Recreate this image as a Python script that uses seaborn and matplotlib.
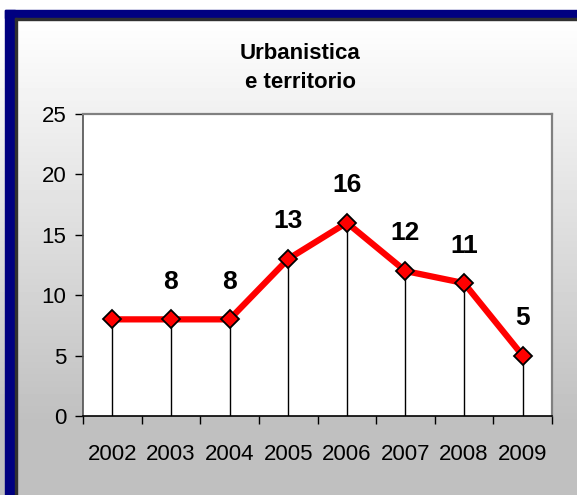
import numpy as np
import matplotlib
matplotlib.use("Agg")
import matplotlib.pyplot as plt
from matplotlib.patches import Rectangle
import seaborn as sns

years = ["2002", "2003", "2004", "2005", "2006", "2007", "2008", "2009"]
values = [8, 8, 8, 13, 16, 12, 11, 5]
show_label = [False, True, True, True, True, True, True, True]
title = "Urbanistica\ne territorio"

sns.set_style("white")
plt.rcParams["font.family"] = ["Liberation Sans", "DejaVu Sans"]
plt.rcParams["text.color"] = "black"
plt.rcParams["xtick.color"] = "black"
plt.rcParams["ytick.color"] = "black"

W, H = 577, 495
fig = plt.figure(figsize=(W / 100, H / 100), dpi=100)
fig.patch.set_facecolor("white")

# gradient background
bg = fig.add_axes([0, 0, 1, 1], zorder=-10)
rows = np.arange(H)
g = np.clip((rows - 18) / (420 - 18), 0, 1)
shade = 1 - g * (1 - 192 / 255)
img = np.repeat(shade[:, None], 2, axis=1)
bg.imshow(img, cmap="gray", vmin=0, vmax=1, aspect="auto", extent=[0, 1, 0, 1])
bg.set_axis_off()

# navy frame top and left
fig.add_artist(Rectangle((5 / W, 0), 10 / W, 1 - 10 / H, transform=fig.transFigure,
                         color="#000080", zorder=5))
fig.add_artist(Rectangle((5 / W, 1 - 18 / H), 1, 8 / H, transform=fig.transFigure,
                         color="#000080", zorder=5))
fig.add_artist(Rectangle((15 / W, 0), 1.5 / W, 1 - 18 / H, transform=fig.transFigure,
                         color="#303030", zorder=5))
fig.add_artist(Rectangle((15 / W, 1 - 20 / H), 1, 2 / H, transform=fig.transFigure,
                         color="#303030", zorder=5))

left, right, top, bottom = 83, 552, 114, 416
ax = fig.add_axes([left / W, 1 - bottom / H, (right - left) / W, (bottom - top) / H])
ax.set_facecolor("white")

x = np.arange(len(years))
ax.vlines(x, 0, values, color="black", lw=1, zorder=2)
sns.lineplot(x=x, y=values, ax=ax, color="#ff0000", lw=4.5, marker="D", markersize=9,
             markerfacecolor="#ff0000", markeredgecolor="black", markeredgewidth=1.3,
             zorder=3)

for xi, v, s in zip(x, values, show_label):
    if s:
        ax.annotate(str(v), (xi, v), xytext=(0, 22), textcoords="offset points",
                    ha="center", va="baseline", fontsize=19, fontweight="bold")

ax.set_xlim(-0.5, len(years) - 0.5)
ax.set_ylim(0, 25)
ax.set_yticks(range(0, 26, 5))
ax.set_xticks(x)
ax.set_xticklabels(years)
ax.set_xticks(np.arange(-0.5, len(years)), minor=True)
ax.tick_params(axis="x", which="major", length=0, pad=20, labelsize=16)
ax.tick_params(axis="x", which="minor", length=6, width=1, color="black", direction="out", bottom=True)
ax.tick_params(axis="y", length=6, width=1, color="black", direction="out", left=True,
               pad=6, labelsize=16)
ax.set_xlabel("")
ax.set_ylabel("")

for side in ["top", "right"]:
    ax.spines[side].set_color("#808080")
    ax.spines[side].set_linewidth(1.6)
ax.spines["left"].set_color("#505050")
ax.spines["left"].set_linewidth(1.2)
ax.spines["bottom"].set_color("black")
ax.spines["bottom"].set_linewidth(1.2)

fig.text(300 / W, 1 - 68 / H, title, ha="center", va="center", fontsize=16,
         fontweight="bold", linespacing=1.5)

fig.savefig("out.png", dpi=100)
